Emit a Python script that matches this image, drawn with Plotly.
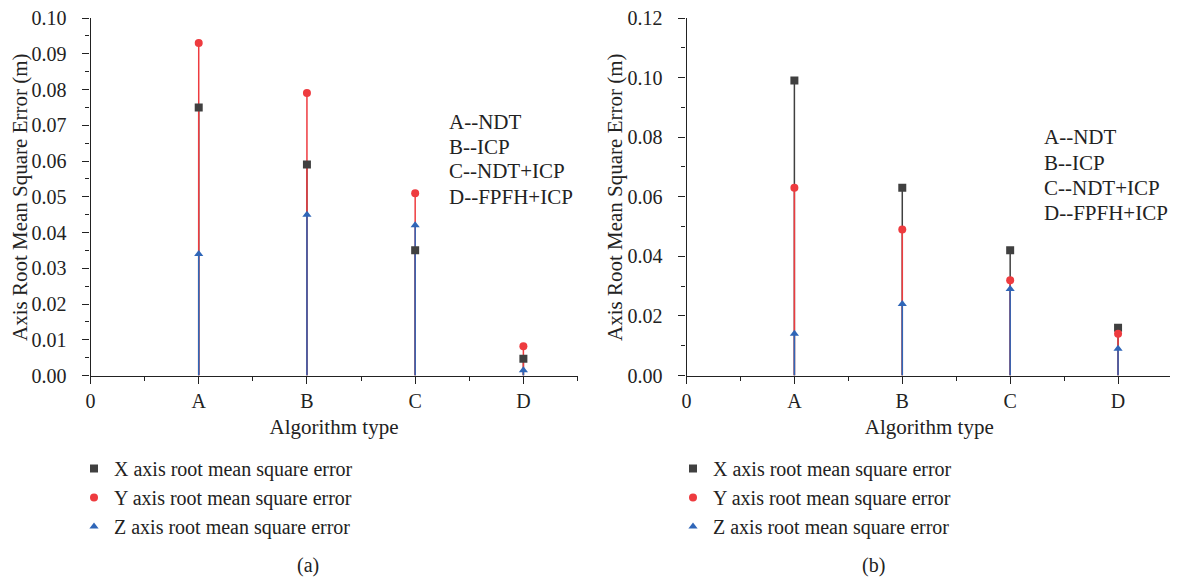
import plotly.graph_objects as go

categories = ["A", "B", "C", "D"]
cat_pos = [1, 2, 3, 4]
x_tick_vals = [0, 1, 2, 3, 4]
x_tick_text = ["0", "A", "B", "C", "D"]

# panel (a)
a_x = [0.075, 0.059, 0.035, 0.0047]
a_y = [0.093, 0.079, 0.051, 0.0082]
a_z = [0.034, 0.045, 0.042, 0.0015]
# panel (b)
b_x = [0.099, 0.063, 0.042, 0.016]
b_y = [0.063, 0.049, 0.032, 0.014]
b_z = [0.014, 0.024, 0.029, 0.009]

names = ["X axis root mean square error", "Y axis root mean square error",
         "Z axis root mean square error"]
colors = ["#404040", "#ee3b3f", "#2f66b8"]
symbols = ["square", "circle", "triangle-up"]
notes = ["A--NDT", "B--ICP", "C--NDT+ICP", "D--FPFH+ICP"]
ytitle = "Axis Root Mean Square Error (m)"

FONT = "Liberation Serif"
TXT = "#222"

# page body has an 8px margin: work in page pixels and convert
OFF = 8
W, H = 1178 - OFF, 579 - OFF


def px(x):
    return (x - OFF) / W


def py(y):
    return 1 - (y - OFF) / H


fig = go.Figure()


def add_panel(series, xa, ya, legend, tag):
    for vals, name, col, sym in zip(series, names, colors, symbols):
        sx, sy = [], []
        for p, v in zip(cat_pos, vals):
            sx += [p, p, None]
            sy += [0, v, None]
        fig.add_trace(go.Scatter(x=sx, y=sy, mode="lines", line=dict(color=col, width=1.5),
                                 xaxis=xa, yaxis=ya, showlegend=False, hoverinfo="skip"))
    for i, (vals, name, col, sym) in enumerate(zip(series, names, colors, symbols)):
        fig.add_trace(go.Scatter(x=cat_pos, y=vals, mode="markers", name=name,
                                 marker=dict(symbol=sym, color=col, size=8),
                                 legendgroup=f"{tag}{i}",
                                 xaxis=xa, yaxis=ya, legend=legend))


add_panel([a_x, a_y, a_z], "x", "y", "legend", "a")
add_panel([b_x, b_y, b_z], "x2", "y2", "legend2", "b")

ydom = [py(375.5), py(18)]
axis_common = dict(showline=True, linecolor="#222", linewidth=1.2, ticks="outside",
                   ticklen=7, tickcolor="#222", showgrid=False, zeroline=False,
                   automargin=False, ticklabeloverflow="allow",
                   tickfont=dict(family=FONT, size=20, color=TXT),
                   title_font=dict(family=FONT, size=21, color=TXT))
xminor = dict(dtick=0.5, tick0=0, ticks="outside", ticklen=4, tickcolor="#222")

fig.update_layout(
    width=W, height=H, margin=dict(l=0, r=0, t=0, b=0),
    plot_bgcolor="white", paper_bgcolor="white",
    font=dict(family=FONT, color=TXT),
    xaxis=dict(domain=[px(90.5), px(577.5)], range=[0, 4.5], tickvals=x_tick_vals,
               ticktext=x_tick_text, anchor="y", ticklabelstandoff=0,
               title=dict(text="Algorithm type", standoff=8), minor=xminor, **axis_common),
    yaxis=dict(domain=ydom, range=[0, 0.1], dtick=0.01, tickformat=".2f", anchor="x",
               ticklabelstandoff=12,
               minor=dict(dtick=0.005, ticks="outside", ticklen=4, tickcolor="#222"),
               **axis_common),
    xaxis2=dict(domain=[px(686.5), px(1172)], range=[0, 4.5], tickvals=x_tick_vals,
                ticktext=x_tick_text, anchor="y2", ticklabelstandoff=0,
                title=dict(text="Algorithm type", standoff=8), minor=xminor, **axis_common),
    yaxis2=dict(domain=ydom, range=[0, 0.12], dtick=0.02, tickformat=".2f", anchor="x2",
                ticklabelstandoff=12,
                minor=dict(dtick=0.01, ticks="outside", ticklen=4, tickcolor="#222"),
                **axis_common),
    legend=dict(x=px(74), y=py(449), xanchor="left", yanchor="top",
                font=dict(family=FONT, size=20, color=TXT), tracegroupgap=0,
                itemsizing="trace", bgcolor="rgba(0,0,0,0)"),
    legend2=dict(x=px(673), y=py(449), xanchor="left", yanchor="top",
                 font=dict(family=FONT, size=20, color=TXT), tracegroupgap=0,
                 itemsizing="trace", bgcolor="rgba(0,0,0,0)"),
)

# y-axis titles
for xc in (20, 615):
    fig.add_annotation(text=ytitle, xref="paper", yref="paper", x=px(xc), y=py(197),
                       textangle=-90, xanchor="center", yanchor="middle", showarrow=False,
                       font=dict(family=FONT, size=21, color=TXT))

left_rows = [122, 147, 171, 197]
right_rows = [137, 163, 188, 213]
for t, yl, yr in zip(notes, left_rows, right_rows):
    fig.add_annotation(text=t, xref="paper", yref="paper", x=px(447),
                       y=py(yl), xanchor="left", yanchor="middle",
                       showarrow=False, font=dict(family=FONT, size=21, color=TXT))
    fig.add_annotation(text=t, xref="paper", yref="paper", x=px(1042),
                       y=py(yr), xanchor="left", yanchor="middle",
                       showarrow=False, font=dict(family=FONT, size=21, color=TXT))

fig.add_annotation(text="(a)", xref="paper", yref="paper", x=px(295), y=py(565),
                   showarrow=False, yanchor="middle", font=dict(family=FONT, size=20, color=TXT))
fig.add_annotation(text="(b)", xref="paper", yref="paper", x=px(887), y=py(565),
                   showarrow=False, yanchor="middle", font=dict(family=FONT, size=20, color=TXT))

fig.write_html("out.html")
